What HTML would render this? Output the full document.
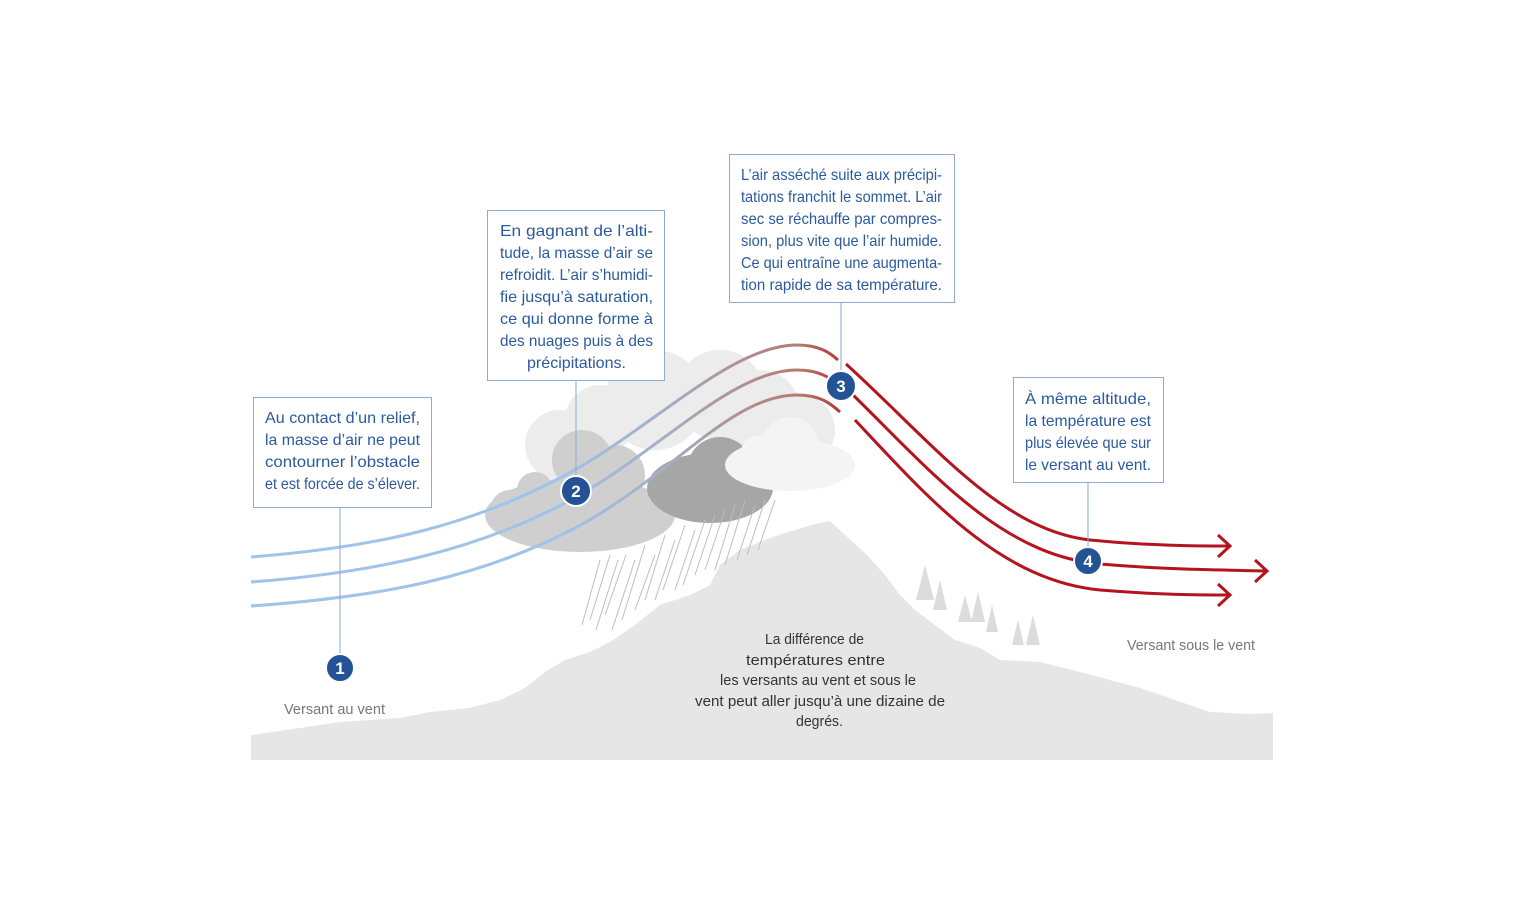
<!DOCTYPE html>
<html><head><meta charset="utf-8"><style>
html,body{margin:0;padding:0;background:#fff;}
svg{display:block;}
.b{font-family:"Liberation Sans Narrow","Liberation Sans",sans-serif;font-size:16px;fill:#2b5a9c;}
.g{font-family:"Liberation Sans Narrow","Liberation Sans",sans-serif;font-size:15px;fill:#333;}
.l{font-family:"Liberation Sans Narrow","Liberation Sans",sans-serif;font-size:15px;fill:#777;}
.n{font-family:"Liberation Sans",sans-serif;font-size:17px;font-weight:bold;fill:#fff;}
</style></head><body>
<svg width="1536" height="897" viewBox="0 0 1536 897" xmlns="http://www.w3.org/2000/svg">
<defs>
<linearGradient id="gr" gradientUnits="userSpaceOnUse" x1="560" y1="0" x2="860" y2="0">
<stop offset="0" stop-color="#9fc3ea"/><stop offset="0.35" stop-color="#a6aec4"/><stop offset="0.8" stop-color="#b57a6c"/><stop offset="1" stop-color="#b4141e"/>
</linearGradient>
</defs>
<path fill="#e6e6e6" d="M251,735 L300,728 L340,722 L400,718 L430,712 L470,708 L500,700 L525,688 L545,672 L565,660 L590,652 L610,642 L635,625 L660,605 L690,595 L710,585 L720,565 L740,550 L770,538 L795,530 L815,524 L830,521 L845,535 L865,553 L885,575 L900,595 L915,610 L935,625 L955,640 L980,648 L1000,660 L1040,662 L1080,672 L1110,680 L1140,688 L1175,700 L1210,712 L1250,714 L1273,713 L1273,760 L251,760 Z"/>
<g fill="#dcdcdc">
<polygon points="925,565 916,600 934,600"/><polygon points="940,580 933,610 947,610"/><polygon points="965,595 958,622 972,622"/><polygon points="978,592 971,622 985,622"/><polygon points="992,605 986,632 998,632"/><polygon points="1018,620 1012,645 1024,645"/><polygon points="1033,615 1026,645 1040,645"/>
</g>
<g fill="#ececec">
<circle cx="655" cy="400" r="50"/><circle cx="720" cy="395" r="45"/><circle cx="760" cy="410" r="40"/><circle cx="600" cy="420" r="35"/><circle cx="560" cy="445" r="35"/><circle cx="800" cy="430" r="35"/>
</g>
<g fill="#cfcfcf">
<ellipse cx="580" cy="515" rx="95" ry="37"/><circle cx="582" cy="460" r="30"/><circle cx="615" cy="475" r="30"/><circle cx="535" cy="490" r="18"/><circle cx="510" cy="510" r="20"/>
</g>
<g fill="#a6a6a6">
<ellipse cx="710" cy="488" rx="63" ry="35"/><circle cx="720" cy="470" r="33"/>
</g>
<g fill="#f4f4f4">
<ellipse cx="790" cy="465" rx="65" ry="26"/><circle cx="790" cy="445" r="28"/><circle cx="760" cy="455" r="20"/>
</g>
<g stroke="#bdbdbd" stroke-width="1">
<line x1="600" y1="560" x2="582" y2="625"/><line x1="610" y1="555" x2="590" y2="620"/><line x1="618" y1="560" x2="596" y2="630"/><line x1="626" y1="555" x2="605" y2="615"/><line x1="635" y1="560" x2="612" y2="630"/><line x1="645" y1="545" x2="622" y2="620"/><line x1="655" y1="555" x2="635" y2="610"/><line x1="665" y1="535" x2="645" y2="600"/><line x1="675" y1="540" x2="655" y2="600"/><line x1="685" y1="525" x2="663" y2="590"/><line x1="695" y1="530" x2="675" y2="590"/><line x1="705" y1="520" x2="683" y2="585"/><line x1="715" y1="515" x2="695" y2="575"/><line x1="725" y1="510" x2="705" y2="570"/><line x1="735" y1="505" x2="715" y2="570"/><line x1="745" y1="500" x2="725" y2="565"/><line x1="755" y1="505" x2="737" y2="560"/><line x1="765" y1="500" x2="747" y2="555"/><line x1="775" y1="500" x2="758" y2="550"/>
</g>
<g fill="none" stroke="url(#gr)" stroke-width="3">
<path d="M251,557 C380,547 470,525 560,478 S730,345 797,345 C822,345 832,355 838,360"/>
<path d="M251,582 C380,572 475,550 565,503 S730,370 797,370 C822,370 832,380 838,385"/>
<path d="M251,606 C380,597 480,578 575,528 S730,395 797,395 C822,395 832,405 840,412"/>
</g>
<g fill="none" stroke="#b4141e" stroke-width="3">
<path d="M846,364 C930,440 1000,530 1090,540 C1150,546 1200,546 1230,546"/>
<path d="M850,392 C930,470 1000,555 1100,564 C1170,570 1230,570 1267,571"/>
<path d="M855,420 C930,500 1000,580 1100,590 C1160,595 1200,595 1230,595"/>
<polyline points="1218,535 1230,546 1218,557"/>
<polyline points="1255,560 1267,571 1255,582"/>
<polyline points="1218,584 1230,595 1218,606"/>
</g>
<g stroke="#8fa9d0" stroke-width="1">
<line x1="340" y1="508" x2="340" y2="656"/>
<line x1="576" y1="381" x2="576" y2="479"/>
<line x1="841" y1="302" x2="841" y2="374"/>
<line x1="1088" y1="482" x2="1088" y2="549"/>
</g>
<g fill="#fff" stroke="#8fa9d0" stroke-width="1">
<rect x="253.5" y="397.5" width="178" height="110"/>
<rect x="487.5" y="210.5" width="177" height="170"/>
<rect x="729.5" y="154.5" width="225" height="148"/>
<rect x="1013.5" y="377.5" width="150" height="105"/>
</g>
<g class="b">
<text x="265" y="423" textLength="155" lengthAdjust="spacingAndGlyphs">Au contact d’un relief,</text>
<text x="265" y="445" textLength="155" lengthAdjust="spacingAndGlyphs">la masse d’air ne peut</text>
<text x="265" y="467" textLength="155" lengthAdjust="spacingAndGlyphs">contourner l’obstacle</text>
<text x="265" y="489" textLength="155" lengthAdjust="spacingAndGlyphs">et est forcée de s’élever.</text>
<text x="500" y="236" textLength="153" lengthAdjust="spacingAndGlyphs">En gagnant de l’alti-</text>
<text x="500" y="258" textLength="153" lengthAdjust="spacingAndGlyphs">tude, la masse d’air se</text>
<text x="500" y="280" textLength="153" lengthAdjust="spacingAndGlyphs">refroidit. L’air s’humidi-</text>
<text x="500" y="302" textLength="153" lengthAdjust="spacingAndGlyphs">fie jusqu’à saturation,</text>
<text x="500" y="324" textLength="153" lengthAdjust="spacingAndGlyphs">ce qui donne forme à</text>
<text x="500" y="346" textLength="153" lengthAdjust="spacingAndGlyphs">des nuages puis à des</text>
<text x="527" y="368" textLength="99" lengthAdjust="spacingAndGlyphs">précipitations.</text>
<text x="741" y="180" textLength="201" lengthAdjust="spacingAndGlyphs">L’air asséché suite aux précipi-</text>
<text x="741" y="202" textLength="201" lengthAdjust="spacingAndGlyphs">tations franchit le sommet. L’air</text>
<text x="741" y="224" textLength="201" lengthAdjust="spacingAndGlyphs">sec se réchauffe par compres-</text>
<text x="741" y="246" textLength="201" lengthAdjust="spacingAndGlyphs">sion, plus vite que l’air humide.</text>
<text x="741" y="268" textLength="201" lengthAdjust="spacingAndGlyphs">Ce qui entraîne une augmenta-</text>
<text x="741" y="290" textLength="201" lengthAdjust="spacingAndGlyphs">tion rapide de sa température.</text>
<text x="1025" y="404" textLength="126" lengthAdjust="spacingAndGlyphs">À même altitude,</text>
<text x="1025" y="426" textLength="126" lengthAdjust="spacingAndGlyphs">la température est</text>
<text x="1025" y="448" textLength="126" lengthAdjust="spacingAndGlyphs">plus élevée que sur</text>
<text x="1025" y="470" textLength="126" lengthAdjust="spacingAndGlyphs">le versant au vent.</text>
</g>
<g fill="#235394" stroke="#fff" stroke-width="2">
<circle cx="340" cy="668" r="14"/><circle cx="576" cy="491" r="15"/><circle cx="841" cy="386" r="15"/><circle cx="1088" cy="561" r="14"/>
</g>
<g class="n" text-anchor="middle">
<text x="340" y="674">1</text><text x="576" y="497">2</text><text x="841" y="392">3</text><text x="1088" y="567">4</text>
</g>
<g class="g">
<text x="765" y="644" textLength="99" lengthAdjust="spacingAndGlyphs">La différence de</text>
<text x="746" y="665" textLength="139" lengthAdjust="spacingAndGlyphs">températures  entre</text>
<text x="720" y="685" textLength="196" lengthAdjust="spacingAndGlyphs">les versants au vent et sous le</text>
<text x="695" y="706" textLength="250" lengthAdjust="spacingAndGlyphs">vent peut aller jusqu’à une dizaine de</text>
<text x="796" y="726" textLength="47" lengthAdjust="spacingAndGlyphs">degrés.</text>
</g>
<text class="l" x="284" y="714" textLength="101" lengthAdjust="spacingAndGlyphs">Versant au vent</text>
<text class="l" x="1127" y="650" textLength="128" lengthAdjust="spacingAndGlyphs">Versant sous le vent</text>
</svg>
</body></html>
